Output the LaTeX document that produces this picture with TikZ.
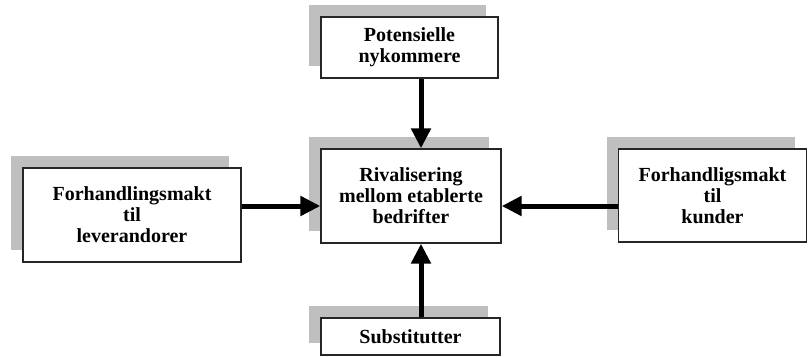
\documentclass[tikz,border=0pt]{standalone}
\usepackage{fontspec}
\setmainfont{Liberation Serif}
\usepackage{tikz}
\usetikzlibrary{shapes,arrows,positioning,calc,shadows,arrows.meta}

\tikzset{
    kraft/.style={draw=black!85, line width=1.3pt, fill=white, align=center,
        font=\fontsize{20}{21}\selectfont\bfseries, inner sep=0pt,
        drop shadow={shadow xshift=-12pt, shadow yshift=12pt, fill=black!25, opacity=1}},
    pil/.style={line width=5pt, -{Triangle[length=20pt,width=19pt]}}
}

\begin{document}
\begin{tikzpicture}[x=1pt,y=-1pt]
    \useasboundingbox (0,0) rectangle (808,356);
    \node[kraft, minimum width=177pt, minimum height=61pt] (nyk) at (409.5,47.5) {Potensielle\\nykommere};
    \node[kraft, minimum width=180pt, minimum height=94pt] (riv) at (411,196) {Rivalisering\\mellom etablerte\\bedrifter};
    \node[kraft, minimum width=218pt, minimum height=94pt] (lev) at (132,215) {Forhandlingsmakt\\til\\leverandorer};
    \node[kraft, minimum width=188pt, minimum height=93pt] (kun) at (712.5,195.5) {Forhandligsmakt\\til\\kunder};
    \node[kraft, minimum width=179pt, minimum height=37pt] (sub) at (410.5,336.5) {Substitutter};
    % arrow lines
    \coordinate (hrow) at (0,206);
    \coordinate (vcol) at (421,0);
    \draw[pil] (lev.east |- hrow) -- (riv.west |- hrow);
    \draw[pil] (kun.west |- hrow) -- (riv.east |- hrow);
    \draw[pil] (nyk.south -| vcol) -- (riv.north -| vcol);
    \draw[pil] (sub.north -| vcol) -- (riv.south -| vcol);
\end{tikzpicture}
\end{document}
